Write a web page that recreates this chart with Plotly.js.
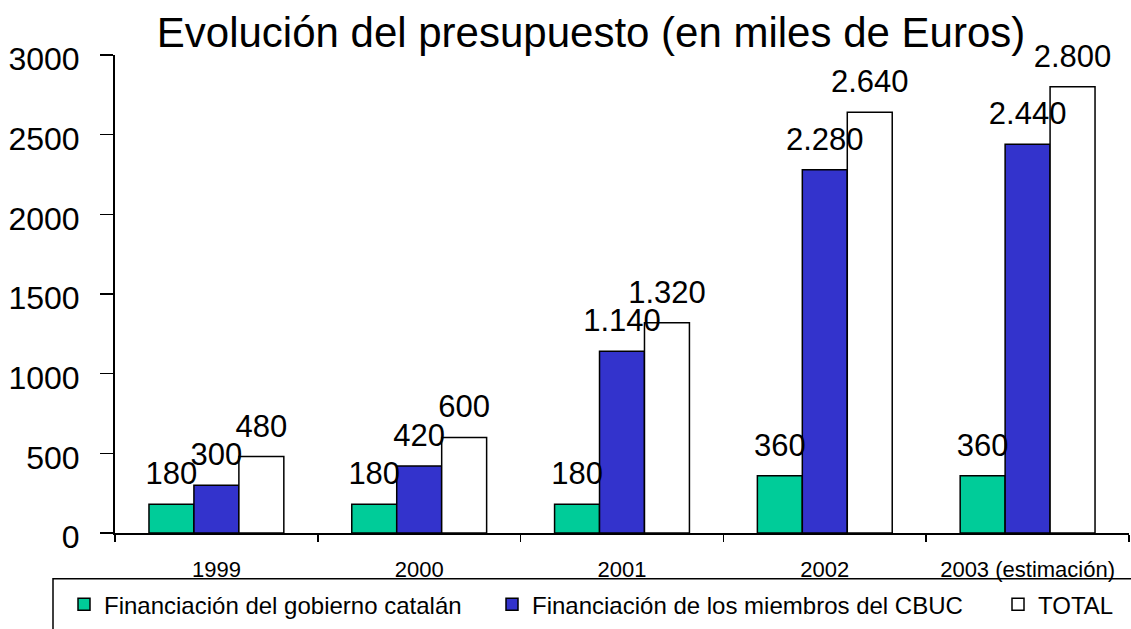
<!DOCTYPE html>
<html>
<head>
<meta charset="utf-8">
<script src="https://cdn.plot.ly/plotly-3.0.1.min.js"></script>
<style>html,body{margin:0;padding:0;background:#fff;}#chart{width:1131px;height:629px;}</style>
</head>
<body>
<div id="chart"></div>
<script>
var categories = ["1999", "2000", "2001", "2002", "2003 (estimación)"];
var seriesNames = ["Financiación del gobierno catalán", "Financiación de los miembros del CBUC", "TOTAL"];
var gobierno = [180, 180, 180, 360, 360];
var miembros = [300, 420, 1140, 2280, 2440];
var total = [480, 600, 1320, 2640, 2800];
var yTicks = [0, 500, 1000, 1500, 2000, 2500, 3000];

var colors = ["#00CC99", "#3333CC", "#FFFFFF"];

function fmt(v) { return String(v).replace(/\B(?=(\d{3})+(?!\d))/g, "."); }

// plot area geometry (pixels)
var W = 1131, H = 629, L = 115, R = 1129, T = 55, B = 535;
function px(x) { return (x - L) / (R - L); }
function py(y) { return (B - y) / (B - T); }

var FONT = "Arial, 'Liberation Sans', sans-serif";
var series = [gobierno, miembros, total];
var legends = ["legend", "legend2", "legend3"];
var traces = series.map(function (vals, i) {
  return {
    type: "bar",
    name: seriesNames[i],
    x: categories,
    y: vals,
    offsetgroup: String(i),
    marker: { color: colors[i], line: { color: "#000", width: 1.5 } },
    legend: legends[i],
    hoverinfo: "x+y"
  };
});
// value labels drawn on top of all bars (invisible markers give the gap above the bar)
series.forEach(function (vals, i) {
  traces.push({
    type: "scatter",
    mode: "markers+text",
    x: categories,
    y: vals,
    offsetgroup: String(i),
    text: vals.map(fmt),
    textposition: "top center",
    cliponaxis: false,
    marker: { size: 18, color: "rgba(0,0,0,0)", line: { width: 0 } },
    textfont: { family: FONT, size: 31, color: "#000" },
    showlegend: false,
    hoverinfo: "skip"
  });
});

function legendAt(xpx) {
  return {
    x: px(xpx), xref: "paper", xanchor: "left",
    y: py(607), yref: "paper", yanchor: "middle",
    orientation: "h",
    bgcolor: "rgba(0,0,0,0)", borderwidth: 0,
    font: { family: FONT, size: 24, color: "#000" }
  };
}

var layout = {
  width: W, height: H,
  margin: { l: L, r: W - R, t: T, b: H - B, pad: 0 },
  paper_bgcolor: "#fff", plot_bgcolor: "#fff",
  barmode: "group", bargap: 0.335, bargroupgap: 0,
  scattermode: "group", scattergap: 0.335,
  showlegend: true,
  title: {
    text: "Evolución del presupuesto (en miles de Euros)",
    font: { family: FONT, size: 42, color: "#000" },
    xref: "container", x: 591 / W, xanchor: "center",
    yref: "container", y: 1 - 32 / H, yanchor: "middle"
  },
  xaxis: {
    type: "category",
    tickson: "boundaries",
    ticks: "outside", ticklen: 7, tickwidth: 1.5, tickcolor: "#000",
    showline: true, linecolor: "#000", linewidth: 2,
    showgrid: false, zeroline: false,
    tickfont: { family: FONT, size: 22, color: "#000" },
    ticklabelstandoff: 16,
    fixedrange: true
  },
  yaxis: {
    range: [0, 3000],
    tickvals: yTicks, ticktext: yTicks.map(String),
    ticks: "outside", ticklen: 13, tickwidth: 1.5, tickcolor: "#000",
    showline: true, linecolor: "#000", linewidth: 2,
    showgrid: false, zeroline: false,
    tickfont: { family: FONT, size: 32, color: "#000" },
    ticklabelstandoff: 14,
    ticklabelshift: 4,
    fixedrange: true
  },
  legend: legendAt(64),
  legend2: legendAt(492),
  legend3: legendAt(998),
  shapes: [{
    type: "rect", xref: "paper", yref: "paper",
    x0: px(53), x1: px(1145), y0: py(581), y1: py(660),
    line: { color: "#000", width: 1.5 }, fillcolor: "rgba(0,0,0,0)", layer: "above"
  }]
};

Plotly.newPlot("chart", traces, layout, { displayModeBar: false, staticPlot: true });
</script>
</body>
</html>
